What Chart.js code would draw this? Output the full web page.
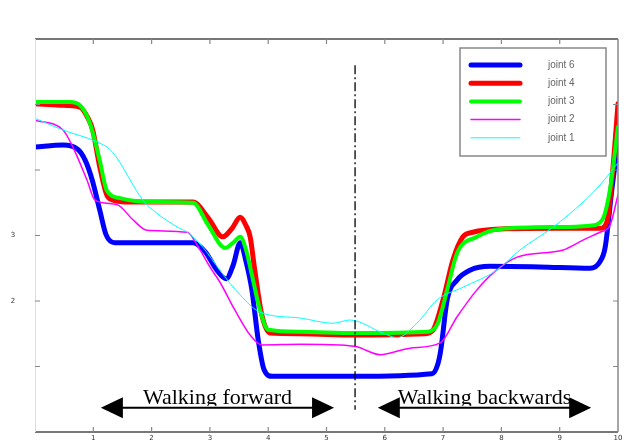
<!DOCTYPE html>
<html>
<head>
<meta charset="utf-8">
<script src="https://cdn.jsdelivr.net/npm/chart.js@4"></script>
<style>
  html, body { margin: 0; padding: 0; background: #fff; }
  #wrap { width: 630px; height: 444px; }
</style>
</head>
<body>
<div id="wrap"><canvas id="jointChart" width="630" height="444"></canvas></div>
<script>
// Joint angle traces while walking forward then backwards

// joint 6 (blue, thick)
const joint6X = [0, 0.48, 0.74, 0.86, 0.98, 1.11, 1.22, 1.37, 1.80, 2.71, 2.92, 3.12, 3.28, 3.40, 3.52, 3.62, 3.72, 3.83, 3.93, 4.07, 4.55, 5.49, 6.81, 6.91, 6.96, 7.07, 7.24, 7.46, 7.80, 8.66, 9.52, 9.69, 9.78, 9.90, 10];
const joint6Y = [4.35, 4.38, 4.31, 4.15, 3.85, 3.39, 3.01, 2.89, 2.89, 2.89, 2.75, 2.47, 2.34, 2.55, 2.89, 2.60, 2.17, 1.40, 0.95, 0.85, 0.85, 0.85, 0.89, 1.04, 1.25, 2.02, 2.32, 2.47, 2.53, 2.52, 2.50, 2.60, 2.82, 3.74, 4.41];

// joint 4 (red, thick)
const joint4X = [0, 0.43, 0.77, 0.91, 0.99, 1.11, 1.23, 1.34, 1.63, 2.71, 2.97, 3.22, 3.38, 3.52, 3.62, 3.69, 3.77, 3.89, 4.03, 4.55, 5.49, 6.69, 6.83, 7.00, 7.17, 7.34, 7.51, 7.98, 9.01, 9.69, 9.81, 9.91, 10];
const joint4Y = [5.01, 4.99, 4.96, 4.79, 4.61, 4.05, 3.62, 3.54, 3.51, 3.51, 3.27, 2.98, 3.11, 3.28, 3.15, 2.98, 2.47, 1.79, 1.51, 1.50, 1.48, 1.50, 1.56, 2.02, 2.63, 2.98, 3.05, 3.10, 3.11, 3.11, 3.21, 4.00, 5.01];

// joint 3 (green)
const joint3X = [0, 0.60, 0.77, 0.94, 1.11, 1.23, 1.46, 1.97, 2.71, 2.97, 3.26, 3.40, 3.52, 3.62, 3.72, 3.86, 4.00, 4.55, 5.49, 6.74, 6.91, 7.07, 7.24, 7.58, 7.98, 9.01, 9.52, 9.73, 9.86, 10];
const joint3Y = [5.04, 5.04, 4.99, 4.72, 4.15, 3.69, 3.57, 3.51, 3.50, 3.16, 2.81, 2.89, 2.98, 2.78, 2.40, 1.86, 1.56, 1.53, 1.51, 1.53, 1.66, 2.17, 2.73, 2.98, 3.10, 3.13, 3.15, 3.24, 3.69, 4.66];

// joint 2 (magenta, thin)
const joint2X = [0, 0.48, 0.65, 0.89, 1.03, 1.41, 1.68, 1.92, 2.61, 2.83, 3.00, 3.17, 3.43, 3.69, 3.89, 4.55, 5.23, 5.52, 5.92, 6.43, 6.95, 7.24, 7.58, 7.86, 8.27, 9.06, 9.40, 9.69, 9.86, 10];
const joint2Y = [4.76, 4.61, 4.35, 3.85, 3.54, 3.47, 3.24, 3.08, 3.05, 2.78, 2.52, 2.29, 1.86, 1.48, 1.33, 1.34, 1.33, 1.30, 1.18, 1.28, 1.36, 1.76, 2.17, 2.43, 2.67, 2.78, 2.93, 3.05, 3.15, 3.62];

// joint 1 (cyan, thin)
const joint1X = [0, 0.48, 1.06, 1.29, 1.46, 1.63, 1.85, 2.09, 2.44, 2.61, 2.88, 3.17, 3.52, 3.86, 4.55, 5.11, 5.40, 5.97, 6.21, 6.55, 6.90, 7.34, 7.92, 8.32, 8.89, 9.40, 9.69, 10];
const joint1Y = [4.79, 4.61, 4.43, 4.31, 4.11, 3.85, 3.54, 3.34, 3.13, 3.05, 2.82, 2.47, 2.09, 1.83, 1.74, 1.66, 1.71, 1.51, 1.44, 1.66, 2.02, 2.21, 2.47, 2.78, 3.13, 3.51, 3.77, 4.11];

// forward / backward split and arrows
const splitX = [5.49, 5.49];
const splitY = [5.6, 0.34];
const arrowLabels = ['Walking forward', 'Walking backwards'];
const arrowFrom = [1.13, 5.88];
const arrowTo = [5.13, 9.54];
const arrowY = 0.37;

// axis ticks
const xTickValues = [1, 2, 3, 4, 5, 6, 7, 8, 9, 10];
const yTickValues = [2, 3];

const toPoints = (xs, ys) => xs.map((x, i) => ({ x: x, y: ys[i] }));

const series = [
  { label: 'joint 6', xs: joint6X, ys: joint6Y, color: '#0000ff', width: 5 },
  { label: 'joint 4', xs: joint4X, ys: joint4Y, color: '#ff0000', width: 5 },
  { label: 'joint 3', xs: joint3X, ys: joint3Y, color: '#00ff00', width: 4 },
  { label: 'joint 2', xs: joint2X, ys: joint2Y, color: '#ff00ff', width: 1.5 },
  { label: 'joint 1', xs: joint1X, ys: joint1Y, color: '#00ffff', width: 1 }
];

const datasets = series.map((s, i) => ({
  label: s.label,
  data: toPoints(s.xs, s.ys),
  borderColor: s.color,
  backgroundColor: s.color,
  borderWidth: s.width,
  pointRadius: 0,
  showLine: true,
  fill: false,
  cubicInterpolationMode: 'monotone',
  borderCapStyle: 'round',
  borderJoinStyle: 'round',
  order: series.length - i + 1
}));

datasets.push({
  label: 'split',
  data: toPoints(splitX, splitY),
  borderColor: '#000',
  borderWidth: 1.3,
  borderDash: [9, 3, 2, 3],
  pointRadius: 0,
  showLine: true,
  fill: false,
  order: 0
});

// frame with inward ticks, tick labels, legend box and walking arrows
const decorations = {
  id: 'decorations',
  afterDatasetsDraw(chart) {
    const ctx = chart.ctx;
    const area = chart.chartArea;
    const xs = chart.scales.x;
    const ys = chart.scales.y;
    ctx.save();

    // frame
    ctx.lineWidth = 2;
    ctx.strokeStyle = '#777';
    ctx.beginPath();
    ctx.moveTo(area.left, area.top); ctx.lineTo(area.right, area.top);
    ctx.moveTo(area.left, area.bottom); ctx.lineTo(area.right, area.bottom);
    ctx.stroke();
    ctx.lineWidth = 1.5;
    ctx.strokeStyle = '#888';
    ctx.beginPath();
    ctx.moveTo(area.right, area.top); ctx.lineTo(area.right, area.bottom);
    ctx.stroke();
    ctx.lineWidth = 1;
    ctx.strokeStyle = '#ddd';
    ctx.beginPath();
    ctx.moveTo(area.left + 0.5, area.top); ctx.lineTo(area.left + 0.5, area.bottom);
    ctx.stroke();

    // inward ticks
    ctx.strokeStyle = '#888';
    ctx.lineWidth = 1.2;
    ctx.beginPath();
    for (let v = 1; v < 10; v++) {
      const px = xs.getPixelForValue(v);
      ctx.moveTo(px, area.top); ctx.lineTo(px, area.top + 5);
      ctx.moveTo(px, area.bottom); ctx.lineTo(px, area.bottom - 5);
    }
    for (let v = 1; v < 6; v++) {
      const py = ys.getPixelForValue(v);
      ctx.moveTo(area.left, py); ctx.lineTo(area.left + 5, py);
      ctx.moveTo(area.right, py); ctx.lineTo(area.right - 5, py);
    }
    ctx.stroke();

    // tick labels
    ctx.fillStyle = '#333';
    ctx.font = '7px "DejaVu Sans", sans-serif';
    ctx.textAlign = 'center';
    ctx.textBaseline = 'middle';
    xTickValues.forEach((v) => {
      ctx.fillText(String(v), xs.getPixelForValue(v), area.bottom + 6);
    });
    yTickValues.forEach((v) => {
      ctx.fillText(String(v), 13, ys.getPixelForValue(v));
    });

    // legend box
    const lx = 460, ly = 48, lw = 146, lh = 108;
    ctx.fillStyle = '#fff';
    ctx.fillRect(lx, ly, lw, lh);
    ctx.strokeStyle = '#888';
    ctx.lineWidth = 1.5;
    ctx.strokeRect(lx, ly, lw, lh);
    ctx.font = '10px "Liberation Sans", Arial, sans-serif';
    ctx.textBaseline = 'middle';
    ctx.textAlign = 'left';
    series.forEach((s, i) => {
      const rowY = 65 + i * 18.2;
      ctx.strokeStyle = s.color;
      ctx.lineWidth = s.width;
      ctx.lineCap = 'round';
      ctx.beginPath();
      ctx.moveTo(471, rowY); ctx.lineTo(520, rowY);
      ctx.stroke();
      ctx.fillStyle = '#666';
      ctx.fillText(s.label, 548, rowY);
    });

    // walking arrows
    const ay = ys.getPixelForValue(arrowY);
    arrowLabels.forEach((text, i) => {
      const x0 = xs.getPixelForValue(arrowFrom[i]);
      const x1 = xs.getPixelForValue(arrowTo[i]);
      const head = 22, half = 10.5;
      ctx.fillStyle = '#000';
      ctx.strokeStyle = '#000';
      ctx.lineWidth = 2.2;
      ctx.beginPath();
      ctx.moveTo(x0 + head - 2, ay); ctx.lineTo(x1 - head + 2, ay);
      ctx.stroke();
      ctx.beginPath();
      ctx.moveTo(x0, ay); ctx.lineTo(x0 + head, ay - half); ctx.lineTo(x0 + head, ay + half);
      ctx.closePath(); ctx.fill();
      ctx.beginPath();
      ctx.moveTo(x1, ay); ctx.lineTo(x1 - head, ay - half); ctx.lineTo(x1 - head, ay + half);
      ctx.closePath(); ctx.fill();

      // label, lower part hidden behind the arrow
      ctx.save();
      ctx.beginPath();
      ctx.rect(x0, ay - 40, x1 - x0, 38);
      ctx.clip();
      ctx.font = '22px "Liberation Serif", "Times New Roman", serif';
      ctx.textAlign = 'center';
      ctx.textBaseline = 'alphabetic';
      ctx.fillText(text, (x0 + x1) / 2, ay - 4);
      ctx.restore();
    });

    ctx.restore();
  }
};

const ctx = document.getElementById('jointChart').getContext('2d');

new Chart(ctx, {
  type: 'scatter',
  data: { datasets: datasets },
  plugins: [decorations],
  options: {
    responsive: false,
    animation: false,
    layout: { padding: { top: 39, right: 12, left: 35, bottom: 12 } },
    plugins: {
      legend: { display: false },
      tooltip: { enabled: false },
      title: { display: false }
    },
    scales: {
      x: { type: 'linear', min: 0, max: 10, display: false },
      y: { type: 'linear', min: 0, max: 6, display: false }
    }
  }
});
</script>
</body>
</html>
